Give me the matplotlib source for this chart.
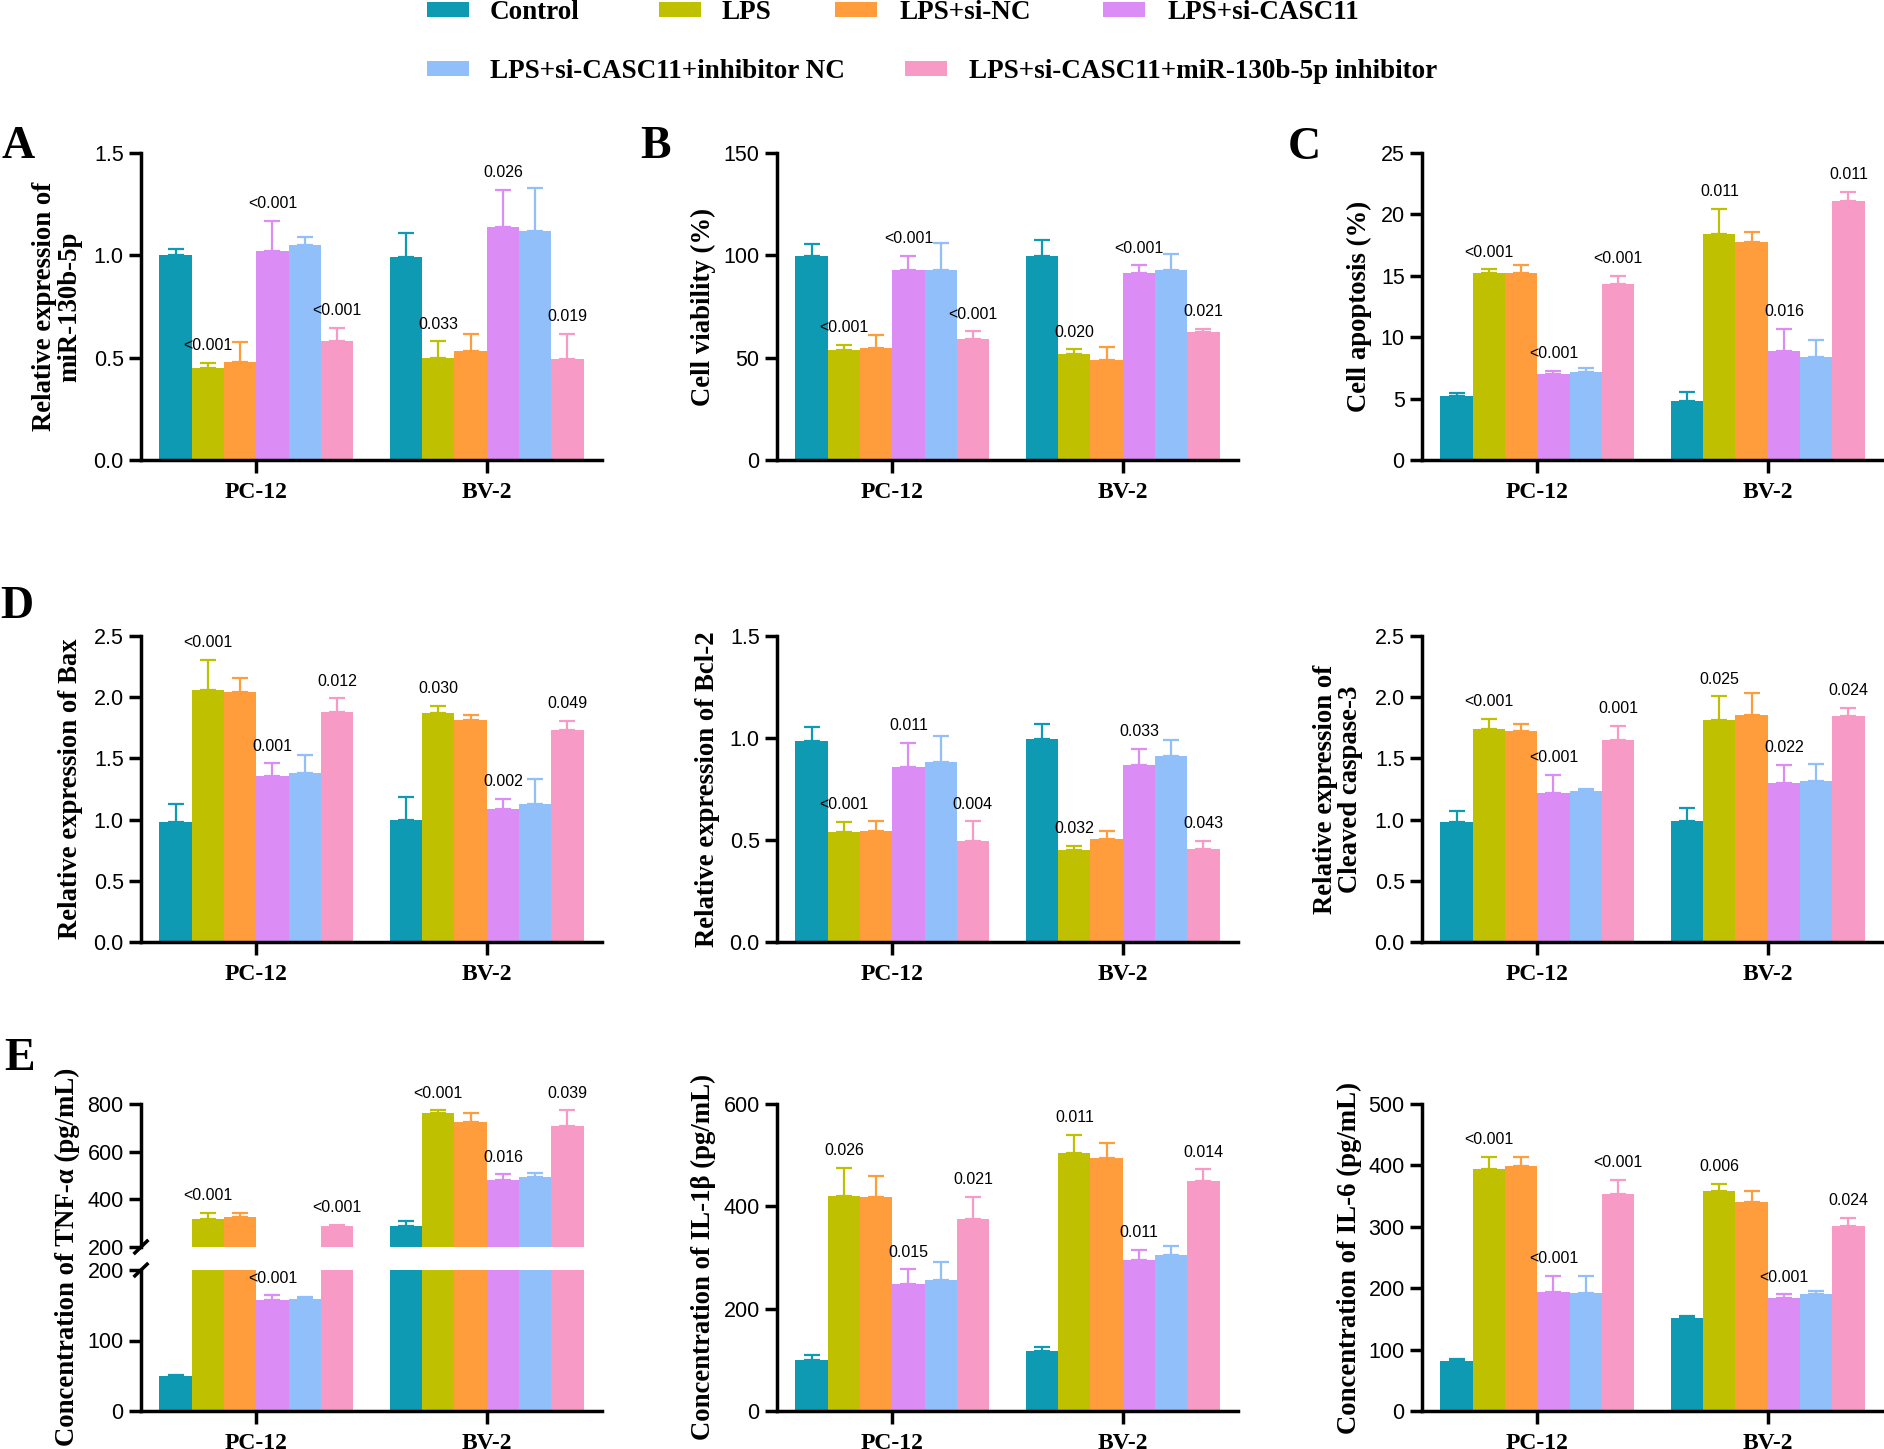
import matplotlib
matplotlib.use("Agg")
import matplotlib.pyplot as plt
from matplotlib.patches import Rectangle
import numpy as np

groups = ["Control", "LPS", "LPS+si-NC", "LPS+si-CASC11",
          "LPS+si-CASC11+inhibitor NC", "LPS+si-CASC11+miR-130b-5p inhibitor"]
colors = ["#0F9AB4", "#BFC000", "#FF9D3D", "#DC8DF5", "#91BFF9", "#F79AC6"]
cells = ["PC-12", "BV-2"]
p_bars = [1, 3, 5]   # bars that carry a p value

# A: miR-130b-5p
mir_mean = [[1.00, 0.45, 0.48, 1.02, 1.05, 0.58], [0.99, 0.50, 0.535, 1.14, 1.12, 0.495]]
mir_sd = [[0.03, 0.026, 0.095, 0.15, 0.04, 0.065], [0.12, 0.08, 0.08, 0.18, 0.21, 0.12]]
mir_p = [["<0.001", "<0.001", "<0.001"], ["0.033", "0.026", "0.019"]]

# B: cell viability
via_mean = [[99.5, 53.8, 54.8, 92.9, 92.9, 59.2], [99.5, 51.9, 48.9, 91.5, 92.9, 62.6]]
via_sd = [[5.8, 2.5, 6.5, 6.9, 12.9, 3.6], [8.2, 2.2, 6.5, 3.6, 7.7, 1.6]]
via_p = [["<0.001", "<0.001", "<0.001"], ["0.020", "<0.001", "0.021"]]

# C: cell apoptosis
apo_mean = [[5.22, 15.2, 15.2, 7.01, 7.17, 14.35], [4.81, 18.42, 17.77, 8.89, 8.40, 21.11]]
apo_sd = [[0.27, 0.33, 0.68, 0.27, 0.36, 0.62], [0.76, 2.04, 0.82, 1.76, 1.38, 0.74]]
apo_p = [["<0.001", "<0.001", "<0.001"], ["0.011", "0.016", "0.011"]]

# D: Bax, Bcl-2, Cleaved caspase-3
bax_mean = [[0.98, 2.06, 2.04, 1.36, 1.38, 1.88], [1.00, 1.87, 1.81, 1.09, 1.13, 1.73]]
bax_sd = [[0.15, 0.245, 0.12, 0.10, 0.15, 0.11], [0.185, 0.06, 0.045, 0.08, 0.205, 0.075]]
bax_p = [["<0.001", "0.001", "0.012"], ["0.030", "0.002", "0.049"]]

bcl_mean = [[0.985, 0.54, 0.545, 0.857, 0.882, 0.494], [0.995, 0.45, 0.504, 0.867, 0.911, 0.455]]
bcl_sd = [[0.07, 0.05, 0.05, 0.12, 0.127, 0.098], [0.073, 0.023, 0.041, 0.08, 0.08, 0.042]]
bcl_p = [["<0.001", "0.011", "0.004"], ["0.032", "0.033", "0.043"]]

cas_mean = [[0.98, 1.74, 1.723, 1.216, 1.232, 1.65], [0.99, 1.813, 1.854, 1.298, 1.314, 1.846]]
cas_sd = [[0.092, 0.082, 0.055, 0.147, 0.02, 0.118], [0.106, 0.194, 0.183, 0.15, 0.139, 0.068]]
cas_p = [["<0.001", "<0.001", "0.001"], ["0.025", "0.022", "0.024"]]

# E: TNF-a, IL-1b, IL-6 (pg/mL)
tnf_mean = [[49, 319, 324, 157, 159, 287], [287, 762, 725, 481, 494, 709]]
tnf_sd = [[2, 24, 19, 7, 3, 7], [24, 11, 38, 24, 18, 64]]
tnf_p = [["<0.001", "<0.001", "<0.001"], ["<0.001", "0.016", "0.039"]]

il1_mean = [[99, 421, 419, 249, 257, 376], [118, 505, 495, 296, 304, 450]]
il1_sd = [[10, 54, 41, 28, 35, 42], [8, 34, 29, 19, 18, 22]]
il1_p = [["0.026", "0.015", "0.021"], ["0.011", "0.011", "0.014"]]

il6_mean = [[81, 394, 399, 193, 192, 353], [151, 358, 340, 184, 190, 301]]
il6_sd = [[4, 20, 15, 27, 28, 24], [4, 12, 19, 6, 6, 13]]
il6_p = [["<0.001", "<0.001", "<0.001"], ["0.006", "<0.001", "0.024"]]

W, H = 1884, 1449
SERIF = "Liberation Serif"
SANS = "Liberation Sans"
bar_w = 0.14
LABEL_SIZE = 19.3

fig = plt.figure(figsize=(W / 100, H / 100), dpi=100)


def px_rect(left, top, right, bottom):
    return [left / W, 1 - bottom / H, (right - left) / W, (bottom - top) / H]


def style(ax, yticks, show_x=True):
    for s in ["top", "right"]:
        ax.spines[s].set_visible(False)
    for s in ["left", "bottom"]:
        ax.spines[s].set_linewidth(2.5)
    ax.tick_params(axis="both", length=9, width=2.5, labelsize=15.5, pad=3.5)
    ax.set_yticks(yticks)
    ax.set_ylim(yticks[0], yticks[-1])
    for lab in ax.get_yticklabels():
        lab.set_fontfamily(SANS)
    ax.set_xlim(-0.5, 1.5)
    if show_x:
        ax.set_xticks(np.arange(len(cells)), cells)
        ax.tick_params(axis="x", pad=7)
        for lab in ax.get_xticklabels():
            lab.set_fontfamily(SERIF)
            lab.set_fontweight("bold")
            lab.set_fontsize(17)
    else:
        ax.spines["bottom"].set_visible(False)
        ax.set_xticks([])


def draw(ax, mean, sd, pvals):
    mean = np.array(mean, dtype=float)
    sd = np.array(sd, dtype=float)
    x = np.arange(len(cells))
    for i in range(len(groups)):
        pos = x + (i - 2.5) * bar_w
        ax.bar(pos, mean[:, i], bar_w, color=colors[i], linewidth=0, zorder=2)
        ax.errorbar(pos, mean[:, i], yerr=[np.zeros(len(cells)), sd[:, i]], fmt="none",
                    ecolor=colors[i], elinewidth=1.6, capsize=5.5, capthick=1.6, zorder=1)
    for c in range(len(cells)):
        for k, i in enumerate(p_bars):
            ax.annotate(pvals[c][k], (x[c] + (i - 2.5) * bar_w, mean[c, i] + sd[c, i]),
                        xytext=(0, 7), textcoords="offset points", ha="center", va="bottom",
                        fontsize=11.5, family=SANS)


def ylabel(ax, text, offset_px, size=LABEL_SIZE):
    ax.set_ylabel(text, family=SERIF, fontweight="bold", fontsize=size, va="center",
                  linespacing=1.05)
    width = ax.get_position().width * W
    ax.yaxis.set_label_coords(-offset_px / width, 0.5)


cols = [(141, 602), (777, 1238), (1422, 1883)]
row1 = (153, 460)
row2 = (636, 942)
row3 = (1104, 1411)

panels = [
    (cols[0], row1, mir_mean, mir_sd, mir_p, [0, 0.5, 1.0, 1.5], "Relative expression of\nmiR-130b-5p", 84),
    (cols[1], row1, via_mean, via_sd, via_p, [0, 50, 100, 150], "Cell viability (%)", 74),
    (cols[2], row1, apo_mean, apo_sd, apo_p, [0, 5, 10, 15, 20, 25], "Cell apoptosis (%)", 63),
    (cols[0], row2, bax_mean, bax_sd, bax_p, [0, 0.5, 1.0, 1.5, 2.0, 2.5], "Relative expression of Bax", 70),
    (cols[1], row2, bcl_mean, bcl_sd, bcl_p, [0, 0.5, 1.0, 1.5], "Relative expression of Bcl-2", 70),
    (cols[2], row2, cas_mean, cas_sd, cas_p, [0, 0.5, 1.0, 1.5, 2.0, 2.5], "Relative expression of\nCleaved caspase-3", 84),
    (cols[1], row3, il1_mean, il1_sd, il1_p, [0, 200, 400, 600], "Concentration of IL-1β (pg/mL)", 74),
    (cols[2], row3, il6_mean, il6_sd, il6_p, [0, 100, 200, 300, 400, 500], "Concentration of IL-6 (pg/mL)", 73),
]

for (l, r), (t, b), mean, sd, pv, yt, lab, off in panels:
    ax = fig.add_axes(px_rect(l, t, r, b))
    draw(ax, mean, sd, pv)
    style(ax, yt)
    ylabel(ax, lab, off)

# TNF-a with broken y axis
ax_up = fig.add_axes(px_rect(141, 1104, 602, 1247))
ax_lo = fig.add_axes(px_rect(141, 1270, 602, 1411))
draw(ax_up, tnf_mean, tnf_sd, tnf_p)
draw(ax_lo, tnf_mean, tnf_sd, tnf_p)
style(ax_up, [200, 400, 600, 800], show_x=False)
style(ax_lo, [0, 100, 200])
dx, dy = 0.016, 0.05
for ax in (ax_up, ax_lo):
    yy = 0 if ax is ax_up else 1
    ax.plot([-dx, dx], [yy - dy, yy + dy], transform=ax.transAxes, color="black",
            lw=2.5, clip_on=False, solid_capstyle="butt")
fig.text(67 / W, 1 - 1257 / H, "Concentration of TNF-α (pg/mL)", rotation=90,
         ha="center", va="center", family=SERIF, fontweight="bold", fontsize=LABEL_SIZE)

# panel letters
for letter, x, y in [("A", 2, 158), ("B", 640, 158), ("C", 1288, 159),
                     ("D", 0, 618), ("E", 4, 1070)]:
    fig.text(x / W, 1 - y / H, letter, family=SERIF, fontweight="bold", fontsize=33,
             ha="left", va="baseline")

# legend
legend_pos = [(427, 490, 19), (659, 722, 19), (835, 899, 19), (1103, 1168, 19),
              (427, 490, 78), (905, 969, 78)]
for (px, tx, base), name, col in zip(legend_pos, groups, colors):
    fig.patches.append(Rectangle((px / W, 1 - (base - 2) / H), 42 / W, 15 / H,
                                 transform=fig.transFigure, color=col, lw=0))
    fig.text(tx / W, 1 - base / H, name, family=SERIF, fontweight="bold", fontsize=19.5,
             ha="left", va="baseline")

fig.savefig("out.png", dpi=100)
